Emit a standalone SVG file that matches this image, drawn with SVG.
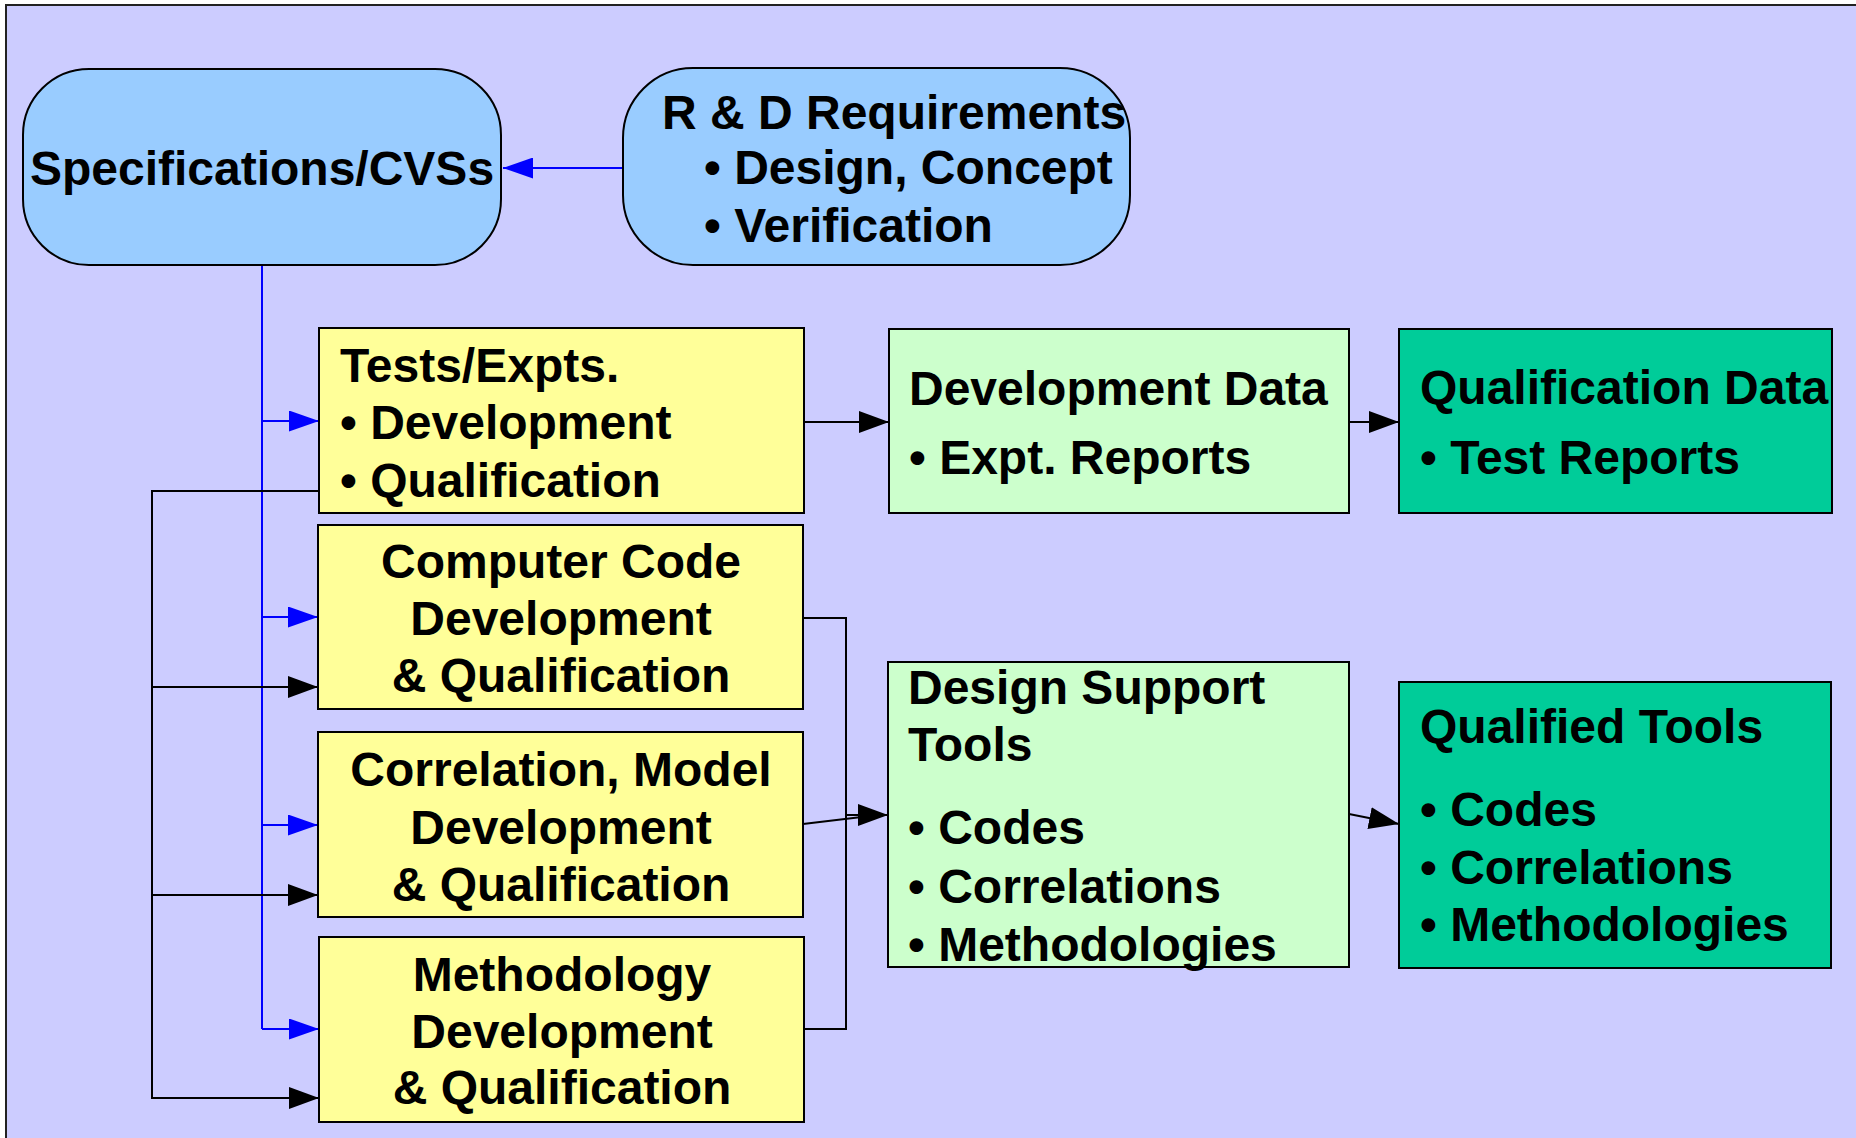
<svg xmlns="http://www.w3.org/2000/svg" width="1856" height="1138" viewBox="0 0 1856 1138">
  <defs>
    <style>
      text { font-family: "Liberation Sans", Arial, sans-serif; font-weight: bold; font-size: 48px; fill: #000; }
      .c { text-anchor: middle; }
      .box { stroke: #000; stroke-width: 2; }
      .blue { fill: #99CCFF; }
      .yel { fill: #FFFF99; }
      .lg { fill: #CCFFCC; }
      .teal { fill: #00CC99; }
      .bl { fill: none; stroke: #0000FF; stroke-width: 2; }
      .bk { fill: none; stroke: #000; stroke-width: 2; }
    </style>
    <marker id="ab" markerUnits="userSpaceOnUse" markerWidth="30" markerHeight="21" viewBox="0 0 30 21" refX="30" refY="10.5" orient="auto">
      <path d="M0,0 L30,10.5 L0,21 z" fill="#0000FF"/>
    </marker>
    <marker id="ak" markerUnits="userSpaceOnUse" markerWidth="30" markerHeight="22" viewBox="0 0 30 22" refX="30" refY="11" orient="auto">
      <path d="M0,0 L30,11 L0,22 z" fill="#000"/>
    </marker>
  </defs>

  <rect x="0" y="0" width="1856" height="1138" fill="#FFFFFF"/>
  <rect x="6" y="5" width="1900" height="1200" fill="#CCCCFF" stroke="#222" stroke-width="2"/>

  <g id="connectors">
    <path class="bl" d="M623,168 H503" marker-end="url(#ab)"/>
    <path class="bl" d="M262,265 V1029"/>
    <path class="bl" d="M262,421 H319" marker-end="url(#ab)"/>
    <path class="bl" d="M262,617 H318" marker-end="url(#ab)"/>
    <path class="bl" d="M262,825 H318" marker-end="url(#ab)"/>
    <path class="bl" d="M262,1029 H319" marker-end="url(#ab)"/>

    <path class="bk" d="M804,422 H889" marker-end="url(#ak)"/>
    <path class="bk" d="M1349,422 H1399" marker-end="url(#ak)"/>

    <path class="bk" d="M319,491 H152 V1098 H319" marker-end="url(#ak)"/>
    <path class="bk" d="M152,687 H318" marker-end="url(#ak)"/>
    <path class="bk" d="M152,895 H318" marker-end="url(#ak)"/>

    <path class="bk" d="M803,618 H846 V1029 H804"/>
    <path class="bk" d="M846,815 H888" marker-end="url(#ak)"/>
    <path class="bk" d="M803,824 L870,816"/>
    <path class="bk" d="M1349,814 L1399,824" marker-end="url(#ak)"/>
  </g>

  <g id="spec">
    <rect class="box blue" x="23" y="69" width="478" height="196" rx="66" ry="66"/>
    <text class="c" x="262" y="185">Specifications/CVSs</text>
  </g>

  <g id="rd">
    <rect class="box blue" x="623" y="68" width="507" height="197" rx="70" ry="70"/>
    <text x="662" y="129">R &amp; D Requirements</text>
    <text x="704" y="184">• Design, Concept</text>
    <text x="704" y="242">• Verification</text>
  </g>

  <g id="tests">
    <rect class="box yel" x="319" y="328" width="485" height="185"/>
    <text x="340" y="382">Tests/Expts.</text>
    <text x="340" y="439">• Development</text>
    <text x="340" y="497">• Qualification</text>
  </g>

  <g id="code">
    <rect class="box yel" x="318" y="525" width="485" height="184"/>
    <text class="c" x="561" y="578">Computer Code</text>
    <text class="c" x="561" y="635">Development</text>
    <text class="c" x="561" y="692">&amp; Qualification</text>
  </g>

  <g id="corr">
    <rect class="box yel" x="318" y="732" width="485" height="185"/>
    <text class="c" x="561" y="786">Correlation, Model</text>
    <text class="c" x="561" y="844">Development</text>
    <text class="c" x="561" y="901">&amp; Qualification</text>
  </g>

  <g id="meth">
    <rect class="box yel" x="319" y="937" width="485" height="185"/>
    <text class="c" x="562" y="991">Methodology</text>
    <text class="c" x="562" y="1048">Development</text>
    <text class="c" x="562" y="1104">&amp; Qualification</text>
  </g>

  <g id="devdata">
    <rect class="box lg" x="889" y="329" width="460" height="184"/>
    <text x="909" y="405">Development Data</text>
    <text x="909" y="474">• Expt. Reports</text>
  </g>

  <g id="qualdata">
    <rect class="box teal" x="1399" y="329" width="433" height="184"/>
    <text x="1420" y="404">Qualification Data</text>
    <text x="1420" y="474">• Test Reports</text>
  </g>

  <g id="dst">
    <rect class="box lg" x="888" y="662" width="461" height="305"/>
    <text x="908" y="704">Design Support</text>
    <text x="908" y="761">Tools</text>
    <text x="908" y="844">• Codes</text>
    <text x="908" y="903">• Correlations</text>
    <text x="908" y="961">• Methodologies</text>
  </g>

  <g id="qtools">
    <rect class="box teal" x="1399" y="682" width="432" height="286"/>
    <text x="1420" y="743">Qualified Tools</text>
    <text x="1420" y="826">• Codes</text>
    <text x="1420" y="884">• Correlations</text>
    <text x="1420" y="941">• Methodologies</text>
  </g>
</svg>
